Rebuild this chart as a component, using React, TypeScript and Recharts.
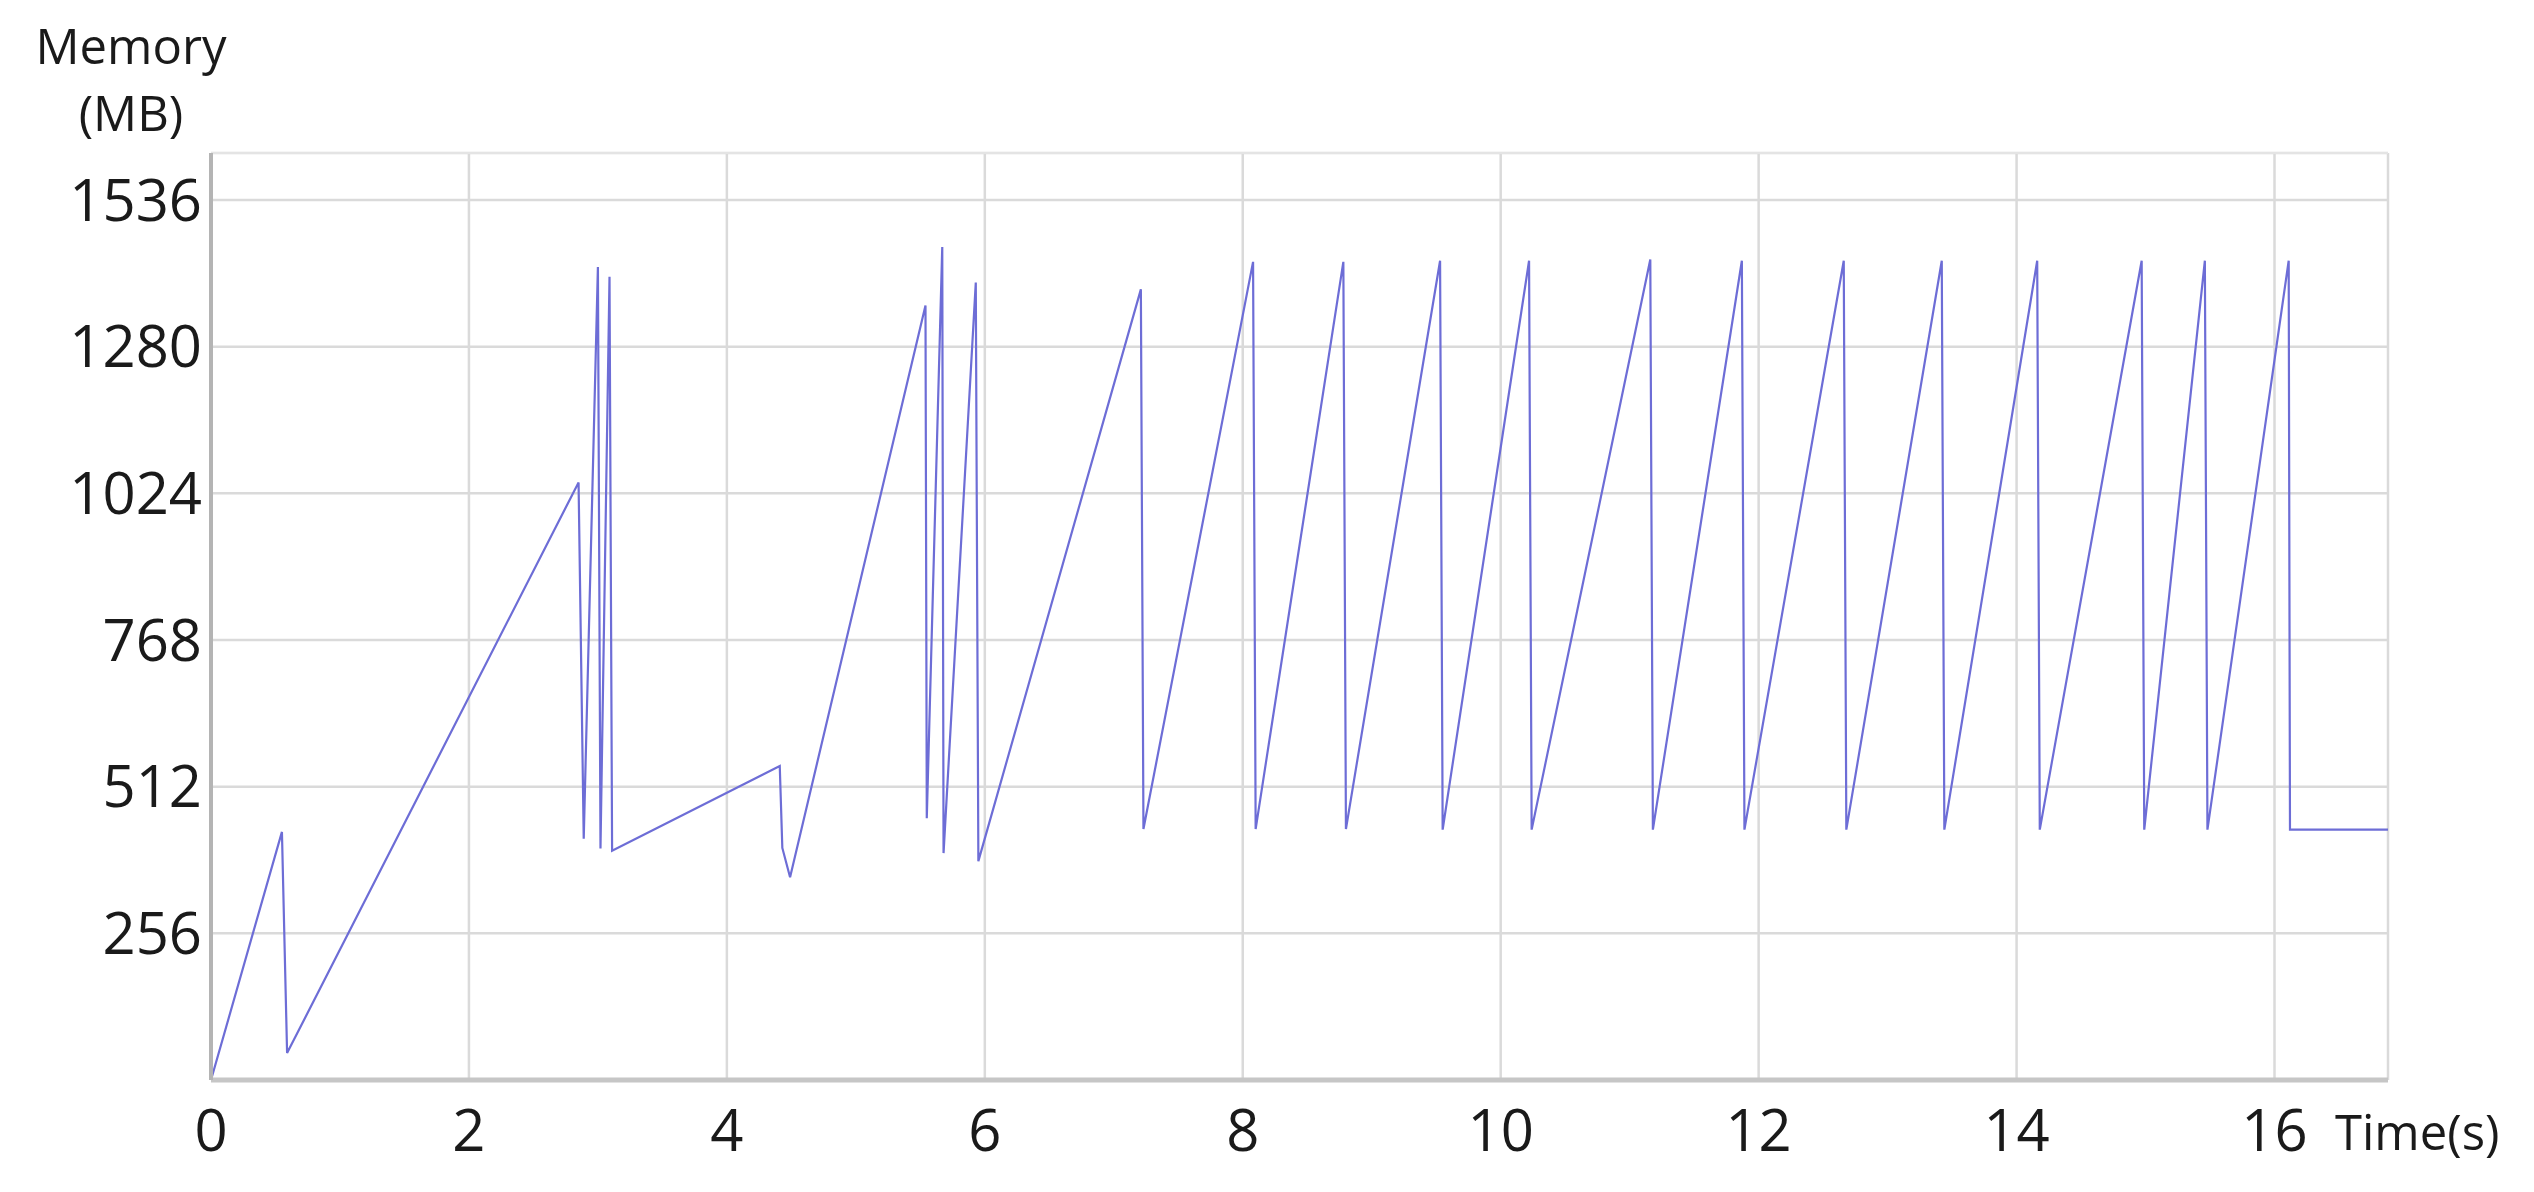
import { LineChart, Line, XAxis, YAxis, CartesianGrid, ReferenceLine } from "recharts";

// time (s) of each vertex of the memory trace
const timeSec = [
  0, 0.55, 0.59, 2.85, 2.89, 3.0, 3.02, 3.09, 3.11, 4.41, 4.43, 4.49,
  5.54, 5.55, 5.67, 5.68, 5.93, 5.95, 7.21, 7.23, 8.08, 8.1, 8.78, 8.8,
  9.53, 9.55, 10.22, 10.24, 11.16, 11.18, 11.87, 11.89, 12.66, 12.68,
  13.42, 13.44, 14.16, 14.18, 14.97, 14.99, 15.46, 15.48, 16.11, 16.12, 16.88,
];

// memory (MB) at each vertex
const memoryMb = [
  0, 433, 47, 1043, 421, 1419, 404, 1402, 400, 548, 405, 354,
  1352, 457, 1454, 396, 1392, 382, 1380, 438, 1428, 438, 1428, 438,
  1430, 437, 1430, 437, 1432, 437, 1430, 437, 1430, 437,
  1430, 437, 1430, 437, 1430, 437, 1430, 437, 1430, 437, 437,
];

const xTicks = [0, 2, 4, 6, 8, 10, 12, 14, 16];
const yTicks = [256, 512, 768, 1024, 1280, 1536];

const X_MAX = 16.88;
const Y_MAX = 1618;

const data = timeSec.map((t, i) => ({ t, mem: memoryMb[i] }));

const font = '"Open Sans", "Noto Sans", sans-serif';

export default function App() {
  return (
    <div style={{ position: "absolute", left: 0, top: 0, width: 2534, height: 1192, background: "#fff" }}>
      <LineChart
        width={2534}
        height={1192}
        data={data}
        margin={{ top: 153, right: 146, bottom: 0, left: 0 }}
      >
        <CartesianGrid stroke="#dadada" strokeWidth={2.5} />
        <ReferenceLine y={Y_MAX} stroke="#e4e4e4" strokeWidth={2} />
        <XAxis
          dataKey="t"
          type="number"
          domain={[0, X_MAX]}
          ticks={xTicks}
          height={112}
          tickLine={false}
          tickMargin={24}
          axisLine={{ stroke: "#c6c6c6", strokeWidth: 5 }}
          tick={{ fontSize: 58, fill: "#1a1a1a", fontFamily: font }}
        />
        <YAxis
          type="number"
          domain={[0, Y_MAX]}
          ticks={yTicks}
          width={211}
          tickLine={false}
          tickMargin={3}
          axisLine={{ stroke: "#b4b4b4", strokeWidth: 4 }}
          tick={{ fontSize: 58, fill: "#1a1a1a", fontFamily: font }}
        />
        <Line
          type="linear"
          dataKey="mem"
          stroke="#6d6dd6"
          strokeWidth={2.2}
          dot={false}
          isAnimationActive={false}
        />
      </LineChart>
      <svg
        width={2534}
        height={1192}
        style={{ position: "absolute", left: 0, top: 0, pointerEvents: "none" }}
      >
        <text x={131} y={64} textAnchor="middle" fontSize={49} fill="#1a1a1a" fontFamily={font}>
          Memory
        </text>
        <text x={131} y={131} textAnchor="middle" fontSize={49} fill="#1a1a1a" fontFamily={font}>
          (MB)
        </text>
        <text x={2335} y={1150} fontSize={49} fill="#1a1a1a" fontFamily={font}>
          Time(s)
        </text>
      </svg>
    </div>
  );
}
